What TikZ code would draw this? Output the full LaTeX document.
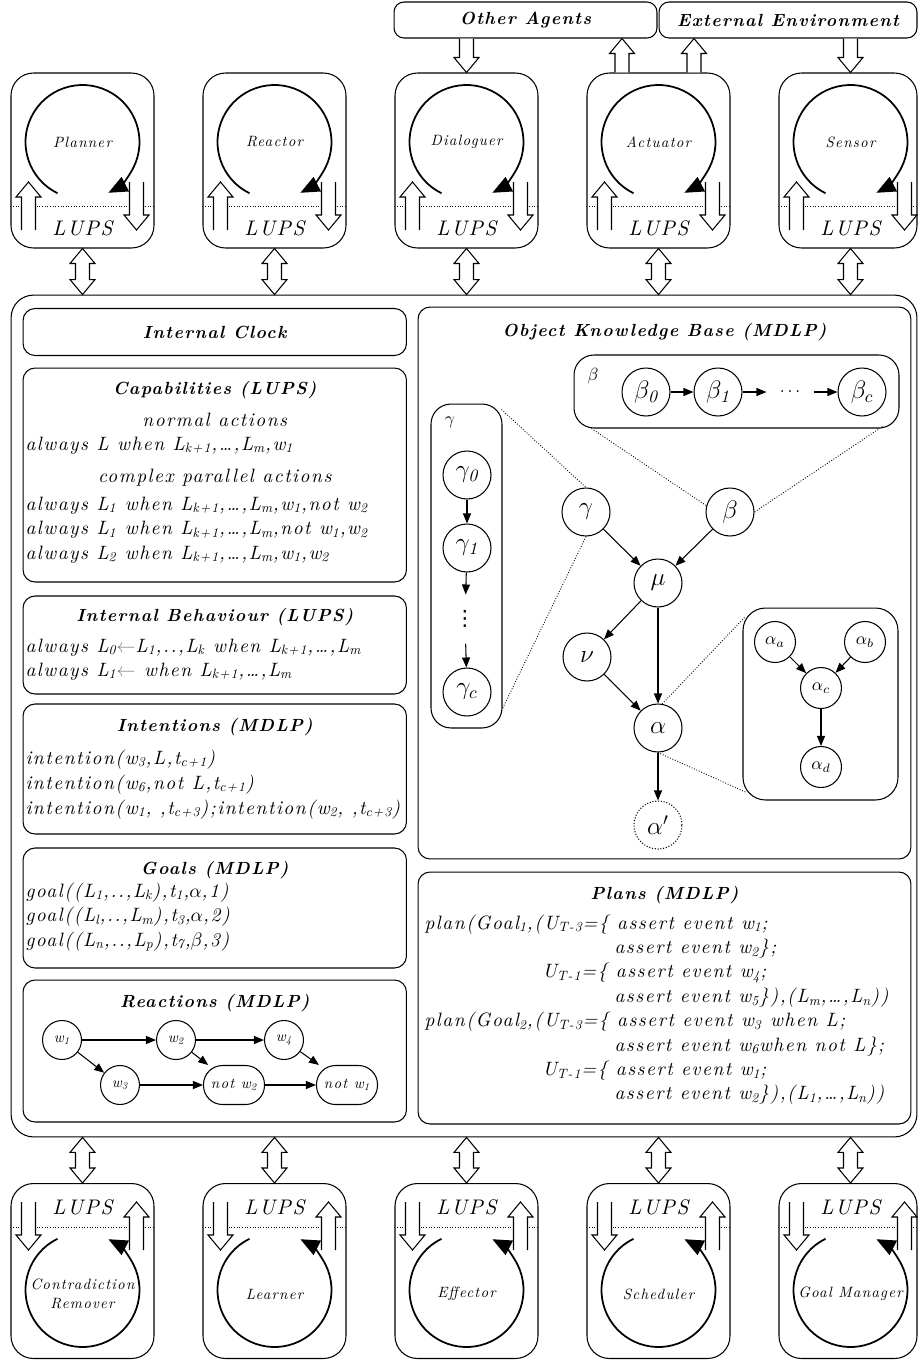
\documentclass[tikz,border=0pt]{standalone}
\usepackage{fontspec}
\newfontfamily\spc{lmroman10-regular.otf}[LetterSpace=8,
  ItalicFont=lmroman10-italic.otf, BoldFont=lmroman10-bold.otf,
  BoldItalicFont=lmroman10-bolditalic.otf]
\newfontfamily\djv{DejaVu Sans}
\usetikzlibrary{arrows.meta,calc,positioning}

\newcommand{\hdrfont}{\fontsize{10}{12}\spc\bfseries\itshape}
\newcommand{\bodyfont}{\fontsize{11}{13}\spc\itshape}
\newcommand{\lsub}[1]{\textsubscript{#1}}

\begin{document}
\begin{tikzpicture}[x=0.02cm, y=0.02cm, line width=0.6pt,
  module/.style={draw, rounded corners=0.45cm, minimum width=2.86cm, minimum height=3.5cm},
  panel/.style={draw, rounded corners=0.24cm, inner sep=0pt},
  outbox/.style={draw, rounded corners=0.2cm, minimum height=0.72cm, inner sep=0pt, font=\hdrfont},
  hdr/.style={font=\hdrfont, inner sep=0pt},
  body/.style={font=\bodyfont, anchor=base west, inner sep=0pt},
  subhd/.style={font=\bodyfont, inner sep=0pt},
  modlbl/.style={font=\fontsize{8.5}{10.5}\spc\itshape, align=center, inner sep=0pt},
  lups/.style={font=\fontsize{12}{14}\spc\itshape, inner sep=0pt},
  sepline/.style={densely dotted, line width=0.5pt},
  cyc/.style={line width=1pt, -{Triangle[length=0.38cm, width=0.32cm]}},
  kn/.style={draw, circle, minimum size=0.96cm, inner sep=0pt, font=\Large},
  sn/.style={draw, circle, minimum size=0.82cm, inner sep=0pt},
  rn/.style={draw, circle, minimum size=0.78cm, inner sep=0pt, font=\fontsize{8.5}{10}\spc\itshape},
  rr/.style={draw, rounded corners=0.38cm, minimum width=1.22cm, minimum height=0.78cm, inner sep=2pt, font=\fontsize{8.5}{10}\spc\itshape},
  link/.style={-{Triangle[length=0.2cm, width=0.16cm]}},
  zoomline/.style={densely dotted, line width=0.5pt}]

  \useasboundingbox (0,0) rectangle (918,-1360);

  % hollow arrow, tail #1, tip #2
  \newcommand{\holarrow}[2]{%
    \coordinate (ha) at #1; \coordinate (hb) at #2;
    \coordinate (hh) at ($(hb)!0.3cm!(ha)$);
    \filldraw[fill=white] ($(ha)!0.14cm!90:(hb)$) -- ($(hh)!0.14cm!-90:(ha)$)
      -- ($(hh)!0.25cm!-90:(ha)$) -- (hb) -- ($(hh)!0.25cm!90:(ha)$)
      -- ($(hh)!0.14cm!90:(ha)$) -- ($(ha)!0.14cm!-90:(hb)$);
  }
  % hollow double arrow
  \newcommand{\holdarrow}[2]{%
    \coordinate (ha) at #1; \coordinate (hb) at #2;
    \coordinate (hg) at ($(ha)!0.3cm!(hb)$);
    \coordinate (hh) at ($(hb)!0.3cm!(ha)$);
    \filldraw[fill=white] (ha) -- ($(hg)!0.25cm!90:(hb)$) -- ($(hg)!0.14cm!90:(hb)$)
      -- ($(hh)!0.14cm!-90:(ha)$) -- ($(hh)!0.25cm!-90:(ha)$) -- (hb)
      -- ($(hh)!0.25cm!90:(ha)$) -- ($(hh)!0.14cm!90:(ha)$)
      -- ($(hg)!0.14cm!-90:(hb)$) -- ($(hg)!0.25cm!-90:(hb)$) -- cycle;
  }

  % outside world
  \node[outbox, minimum width=5.26cm] (other) at (525.5,-20) {Other Agents};
  \node[outbox, minimum width=5.16cm] (env) at (788,-20) {External Environment};

  % agent frame
  \node[draw, rounded corners=0.45cm, minimum width=18.12cm, minimum height=16.84cm] (main) at (464,-716) {};

  % upper modules
  \foreach \nm/\txt/\cx/\bx/\bw in {planner/Planner/82.5/82.5/2.86, reactor/Reactor/274.5/274.5/2.86,
      dialoguer/Dialoguer/466.5/466.5/2.86, actuator/Actuator/658.5/658.5/2.86, sensor/Sensor/850.5/848/2.76}{
    \node[module, minimum width=\bw cm] (\nm) at (\bx,-160.5) {};
    \coordinate (\nm-c) at (\cx,-142);
    \coordinate (\nm-s) at (\cx,-206);
    \node[modlbl] (\nm-lbl) at (\nm-c) {\txt};
    \node[lups] (\nm-lups) at (\cx,-228) {LUPS};
    \draw[sepline] (\nm.west |- \nm-s) -- (\nm.east |- \nm-s);
    \draw[cyc] (\nm-c) ++(244:1.14cm) arc (244:-63:1.14cm);
    \holarrow{(\cx-54,-230)}{(\cx-54,-182)}
    \holarrow{(\cx+54,-182)}{(\cx+54,-230)}
    \holdarrow{(\nm.south -| \nm-c)}{(main.north -| \nm-c)}
  }

  % lower modules
  \foreach \nm/\txt/\cx/\bx/\bw in {remover/{Contradiction\\Remover}/82.5/82.5/2.86, learner/Learner/274.5/274.5/2.86,
      effector/Effector/466.5/466.5/2.86, scheduler/Scheduler/658.5/658.5/2.86, goalmgr/Goal Manager/850.5/848/2.76}{
    \node[module, minimum width=\bw cm] (\nm) at (\bx,-1271) {};
    \coordinate (\nm-c) at (\cx,-1290);
    \coordinate (\nm-s) at (\cx,-1227);
    \node[modlbl] (\nm-lbl) at (\cx,-1294) {\txt};
    \node[lups] (\nm-lups) at (\cx,-1207) {LUPS};
    \draw[sepline] (\nm.west |- \nm-s) -- (\nm.east |- \nm-s);
    \draw[cyc] (\nm-c) ++(116:1.14cm) arc (116:423:1.14cm);
    \holarrow{(\cx-54,-1202)}{(\cx-54,-1250)}
    \holarrow{(\cx+54,-1250)}{(\cx+54,-1202)}
    \holdarrow{(main.south -| \nm-c)}{(\nm.north -| \nm-c)}
  }

  % links to the outside world
  \coordinate (act-l) at (622,-60);
  \coordinate (act-r) at (694,-60);
  \holarrow{(other.south -| dialoguer-c)}{(dialoguer.north -| dialoguer-c)}
  \holarrow{(actuator.north -| act-l)}{(other.south -| act-l)}
  \holarrow{(actuator.north -| act-r)}{(env.south -| act-r)}
  \holarrow{(env.south -| sensor-c)}{(sensor.north -| sensor-c)}

  % left column
  \node[panel, minimum width=7.67cm, minimum height=0.94cm, font=\hdrfont] (clock) at (214.75,-332) {Internal Clock};

  \node[panel, minimum width=7.67cm, minimum height=4.28cm] (cap) at (214.75,-475) {};
  \node[hdr] (cap-t) at (214.75,-390) {Capabilities (LUPS)};
  \node[subhd] (cap-n) at (214.75,-420) {normal actions};
  \node[body] (cap-l0) at (25,-450) {always L when L\lsub{k+1},\dots,L\lsub{m},w\lsub{1}};
  \node[subhd] (cap-c) at (214.75,-478) {complex parallel actions};
  \foreach \t [count=\i] in {{always L\lsub{1} when L\lsub{k+1},\dots,L\lsub{m},w\lsub{1},not w\lsub{2}},
      {always L\lsub{1} when L\lsub{k+1},\dots,L\lsub{m},not w\lsub{1},w\lsub{2}},
      {always L\lsub{2} when L\lsub{k+1},\dots,L\lsub{m},w\lsub{1},w\lsub{2}}}
    \node[body] (cap-l\i) at (25,{-(510+24.5*(\i-1))}) {\t};

  \node[panel, minimum width=7.67cm, minimum height=1.96cm] (behav) at (214.75,-645) {};
  \node[hdr] (behav-t) at (214.75,-617) {Internal Behaviour (LUPS)};
  \node[body] (behav-l1) at (25,-652) {always L\lsub{0}{\color{gray}$\leftarrow$}L\lsub{1},..,L\lsub{k} when L\lsub{k+1},\dots,L\lsub{m}};
  \node[body] (behav-l2) at (25,-676) {always L\lsub{1}{\color{gray}$\leftarrow$} when L\lsub{k+1},\dots,L\lsub{m}};

  \node[panel, minimum width=7.67cm, minimum height=2.6cm] (intent) at (214.75,-769) {};
  \node[hdr] (intent-t) at (214.75,-727) {Intentions (MDLP)};
  \foreach \t [count=\i] in {{intention(w\lsub{3},L,t\lsub{c+1})},
      {intention(w\lsub{6},not L,t\lsub{c+1})},
      {intention(w\lsub{1}, ,t\lsub{c+3});intention(w\lsub{2}, ,t\lsub{c+3})}}
    \node[body] (intent-l\i) at (25,{-(764+25*(\i-1))}) {\t};

  \node[panel, minimum width=7.67cm, minimum height=2.4cm] (goals) at (214.75,-908) {};
  \node[hdr] (goals-t) at (214.75,-870) {Goals (MDLP)};
  \foreach \t [count=\i] in {{goal((L\lsub{1},..,L\lsub{k}),t\lsub{1},$\alpha$,1)},
      {goal((L\lsub{l},..,L\lsub{m}),t\lsub{3},$\alpha$,2)},
      {goal((L\lsub{n},..,L\lsub{p}),t\lsub{7},$\beta$,3)}}
    \node[body] (goals-l\i) at (25,{-(897+24.5*(\i-1))}) {\t};

  \node[panel, minimum width=7.67cm, minimum height=2.84cm] (react) at (214.75,-1051) {};
  \node[hdr] (react-t) at (214.75,-1003) {Reactions (MDLP)};
  \node[rn] (w1) at (62,-1040) {w\lsub{1}};
  \node[rn] (w2) at (176,-1040) {w\lsub{2}};
  \node[rn] (w4) at (284,-1040) {w\lsub{4}};
  \node[rn] (w3) at (120,-1085) {w\lsub{3}};
  \node[rr] (nw2) at (234,-1085) {not w\lsub{2}};
  \node[rr] (nw1) at (347,-1085) {not w\lsub{1}};
  \draw[link] (w1) -- (w2);
  \draw[link] (w2) -- (w4);
  \draw[link] (w1) -- (w3);
  \draw[link] (w3) -- (nw2);
  \draw[link] (w2) -- (nw2);
  \draw[link] (nw2) -- (nw1);
  \draw[link] (w4) -- (nw1);

  % right column: knowledge base
  \node[panel, minimum width=9.86cm, minimum height=11.04cm] (kb) at (664.5,-583) {};
  \node[hdr] (kb-t) at (664.5,-332) {Object Knowledge Base (MDLP)};

  \node[panel, rounded corners=0.4cm, minimum width=6.5cm, minimum height=1.46cm] (bbox) at (736.5,-391.5) {};
  \node (bbox-l) at (593,-376) {$\beta$};
  \node[kn] (b0) at (646,-392) {$\beta_{\mathit{0}}$};
  \node[kn] (b1) at (718,-392) {$\beta_{\mathit{1}}$};
  \node[minimum width=0.92cm, inner sep=0pt] (bdots) at (790,-392) {$\ldots$};
  \node[kn] (bc) at (862,-392) {$\beta_c$};
  \draw[link] (b0) -- (b1);
  \draw[link] (b1) -- (bdots);
  \draw[link] (bdots) -- (bc);

  \node[panel, rounded corners=0.4cm, minimum width=1.42cm, minimum height=6.48cm] (gbox) at (466.5,-566) {};
  \node (gbox-l) at (450,-422) {$\gamma$};
  \node[kn] (g0) at (467,-475) {$\gamma_{\mathit{0}}$};
  \node[kn] (g1) at (467,-548) {$\gamma_{\mathit{1}}$};
  \node[minimum height=0.96cm, inner sep=0pt, font=\djv\large] (gdots) at (465,-619) {⋮};
  \node[kn] (gc) at (467,-692) {$\gamma_c$};
  \draw[link] (g0) -- (g1);
  \draw[link] (g1) -- (gdots);
  \draw[link] (gdots) -- (gc);

  \node[panel, rounded corners=0.45cm, minimum width=3.1cm, minimum height=3.84cm] (abox) at (820.5,-704) {};
  \node[sn] (aa) at (775,-642) {$\alpha_a$};
  \node[sn] (ab) at (865,-642) {$\alpha_b$};
  \node[sn] (ac) at (821,-688) {$\alpha_c$};
  \node[sn] (ad) at (821,-767) {$\alpha_d$};
  \draw[link] (aa) -- (ac);
  \draw[link] (ab) -- (ac);
  \draw[link] (ac) -- (ad);

  \node[kn] (gam) at (586,-512) {$\gamma$};
  \node[kn] (bet) at (730,-512) {$\beta$};
  \node[kn] (mu) at (658,-583) {$\mu$};
  \node[kn] (nu) at (587,-657) {$\nu$};
  \node[kn] (alp) at (658,-728) {$\alpha$};
  \node[kn, densely dotted] (alpp) at (658,-825) {$\alpha'$};
  \draw[link] (gam) -- (mu);
  \draw[link] (bet) -- (mu);
  \draw[link] (mu) -- (nu);
  \draw[link] (mu) -- (alp);
  \draw[link] (nu) -- (alp);
  \draw[link] (alp) -- (alpp);

  % zoom-in lines
  \draw[zoomline] ($(gbox.north east)+(-1,-6)$) -- (gam.north);
  \draw[zoomline] (gam.south) -- ($(gbox.south east)+(0,20)$);
  \draw[zoomline] ($(bbox.south west)+(18,0)$) -- (bet.165);
  \draw[zoomline] ($(bbox.south east)+(-17,2)$) -- (bet.east);
  \draw[zoomline] ($(abox.north west)+(2,-10)$) -- (alp.80);
  \draw[zoomline] (alp.south) -- ($(abox.south west)+(4,8)$);

  % right column: plans
  \node[panel, minimum width=9.86cm, minimum height=5.04cm] (plans) at (664.5,-998) {};
  \node[hdr] (plans-t) at (664.5,-895) {Plans (MDLP)};
  \foreach \xx/\t [count=\i] in {424/{plan(Goal\lsub{1},(U\lsub{T-3}=\{ assert event w\lsub{1};},
      614/{assert event w\lsub{2}\};},
      542/{U\lsub{T-1}=\{ assert event w\lsub{4};},
      614/{assert event w\lsub{5}\}),(L\lsub{m},\dots,L\lsub{n}))},
      424/{plan(Goal\lsub{2},(U\lsub{T-3}=\{ assert event w\lsub{3} when L;},
      614/{assert event w\lsub{6}when not L\};},
      542/{U\lsub{T-1}=\{ assert event w\lsub{1};},
      614/{assert event w\lsub{2}\}),(L\lsub{1},\dots,L\lsub{n}))}}
    \node[body] (plan-l\i) at (\xx,{-(929+24.4*(\i-1))}) {\t};
\end{tikzpicture}
\end{document}
